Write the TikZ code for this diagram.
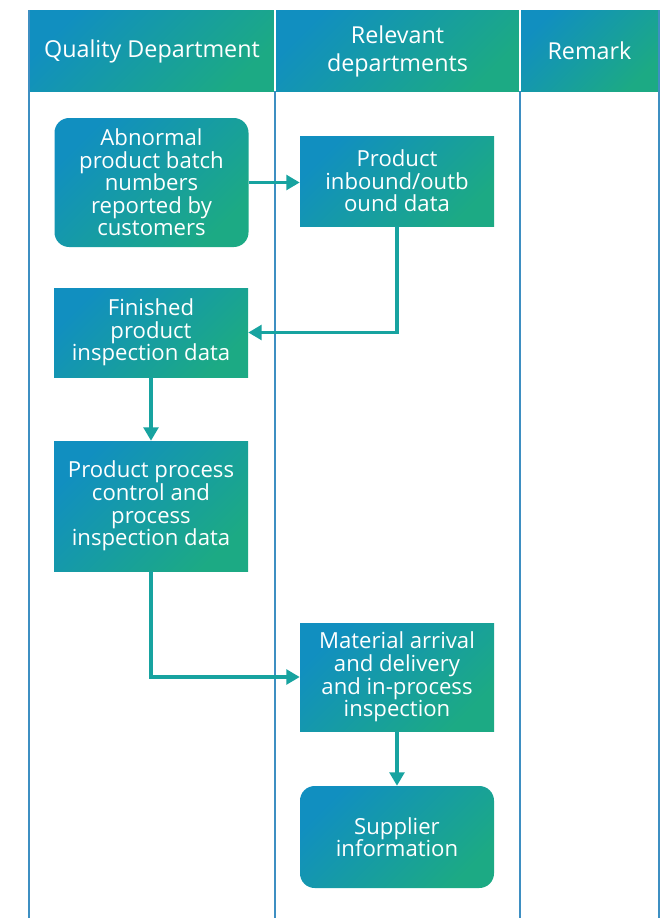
\documentclass[tikz,border=0pt]{standalone}
\usepackage{fontspec}
\setmainfont{Open Sans}
\usepackage{xcolor}
\usepackage{tikz}
\usetikzlibrary{arrows.meta}

\definecolor{laneblue}{HTML}{118FC0}
\definecolor{lanegreen}{HTML}{1CAA84}
\definecolor{flowteal}{HTML}{17A3A0}
\definecolor{gridblue}{HTML}{3E8FC2}

\begin{document}
\begin{tikzpicture}[x=0.75pt, y=-0.75pt,
    grad/.style={top color=laneblue, bottom color=lanegreen, shading angle=45},
    task/.style={grad, minimum width=194*0.75pt, align=center, text=white,
        font=\fontsize{16.6}{16.9}\selectfont, inner sep=0pt},
    flow/.style={draw=flowteal, line width=2.4pt, -{Triangle[length=10pt,width=11pt]}}]
    \useasboundingbox (0,0) rectangle (668,918);

    % Header row
    \shade[grad] (29,10) rectangle (275,91);
    \shade[grad] (275,10) rectangle (520,91);
    \shade[grad] (520,10) rectangle (659,91);
    \node[text=white, font=\fontsize{17.5}{21}\selectfont] (qd) at (152,51) {Quality Department};
    \node[text=white, font=\fontsize{17.5}{21}\selectfont, align=center] (rd) at (397.5,51) {Relevant\\departments};
    \node[text=white, font=\fontsize{17.5}{21}\selectfont] (rm) at (589.5,51) {Remark};

    % Lanes
    \draw[white, line width=0.9pt] (275,10) -- (275,91);
    \draw[white, line width=0.9pt] (520,10) -- (520,91);
    \draw[gridblue, line width=1.1pt] (29,10) -- (29,918);
    \draw[gridblue, line width=1.1pt] (659,10) -- (659,918);
    \draw[gridblue, line width=1.1pt] (275,91) -- (275,918);
    \draw[gridblue, line width=1.1pt] (520,91) -- (520,918);

    % Steps
    \node[task, rounded corners=11pt, minimum height=129*0.75pt] (abnormal) at (151.5,182.5)
        {Abnormal\\product batch\\numbers\\reported by\\customers};
    \node[task, minimum height=90*0.75pt] (inbound) at (397,181)
        {Product\\inbound/outb\\ound data};
    \node[task, minimum height=89*0.75pt] (finished) at (151,332.5)
        {Finished\\product\\inspection data};
    \node[task, minimum height=130*0.75pt] (process) at (151,506)
        {Product process\\control and\\process\\inspection data};
    \node[task, minimum height=108*0.75pt] (material) at (397,677)
        {Material arrival\\and delivery\\and in-process\\inspection};
    \node[task, rounded corners=11pt, minimum height=102*0.75pt] (supplier) at (397,837)
        {Supplier\\information};

    % Connectors
    \draw[flow] (abnormal.east) -- (inbound.west |- abnormal.east);
    \draw[flow] (inbound.south) |- (finished.east);
    \draw[flow] (finished.south) -- (process.north);
    \draw[flow] (process.south) |- (material.west);
    \draw[flow] (material.south) -- (supplier.north);
\end{tikzpicture}
\end{document}
